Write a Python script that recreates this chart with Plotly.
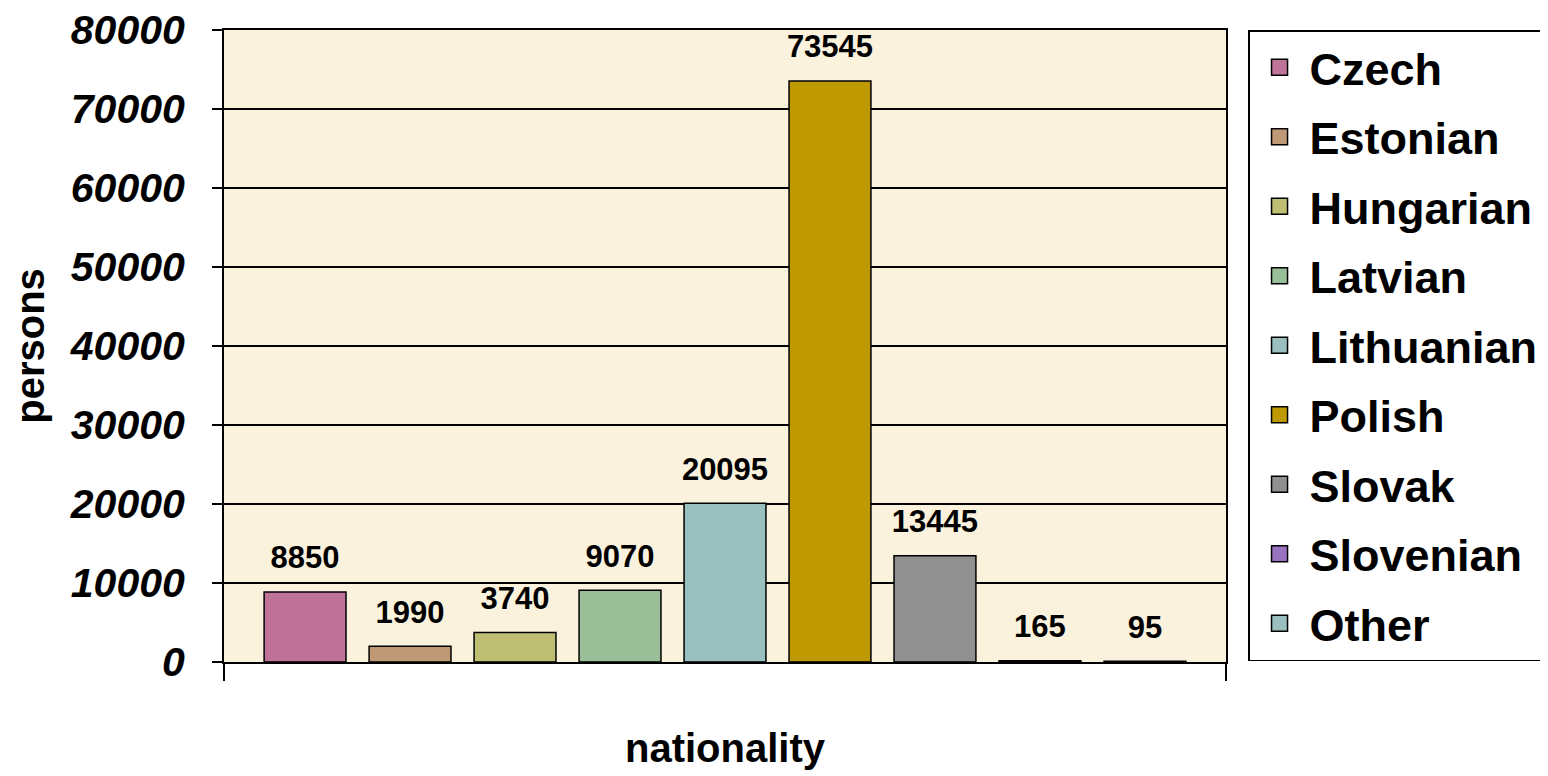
import plotly.graph_objects as go

nationalities = ["Czech", "Estonian", "Hungarian", "Latvian", "Lithuanian",
                 "Polish", "Slovak", "Slovenian", "Other"]
persons = [8850, 1990, 3740, 9070, 20095, 73545, 13445, 165, 95]
colors = ["#C07399", "#BF9975", "#BFBF73", "#99BF99", "#99BFBF",
          "#BF9900", "#909090", "#9973BF", "#99BFBF"]
y_ticks = [0, 10000, 20000, 30000, 40000, 50000, 60000, 70000, 80000]

FONT = "Liberation Sans, Arial, sans-serif"

fig = go.Figure()
for name, val, col in zip(nationalities, persons, colors):
    fig.add_trace(go.Bar(
        x=["nationality"], y=[val], name=name, showlegend=False,
        offsetgroup=name, alignmentgroup="a",
        marker=dict(color=col, line=dict(color="black", width=1.5)),
    ))
for name, val in zip(nationalities, persons):
    fig.add_trace(go.Scatter(
        x=["nationality"], y=[val], mode="markers+text", showlegend=False,
        offsetgroup=name, alignmentgroup="a", cliponaxis=False,
        marker=dict(size=24, opacity=0), text=[str(val)], textposition="top center",
        textfont=dict(family=FONT, size=31, color="black", weight="bold"),
        hoverinfo="skip",
    ))
for name, col in zip(nationalities, colors):
    fig.add_trace(go.Scatter(
        x=[None], y=[None], mode="markers", name=name, legendgroup=name,
        marker=dict(symbol="square", size=16, color=col,
                    line=dict(color="black", width=1.5)),
    ))

fig.update_layout(
    width=1548, height=776,
    margin=dict(l=216, r=330, t=22, b=122),
    paper_bgcolor="white", plot_bgcolor="#FBF2DD",
    barmode="group", bargap=0.057, bargroupgap=0.22,
    scattermode="group", scattergap=0.057,
    font=dict(family=FONT, color="black"),
    legend=dict(x=1.022, y=1.0, xanchor="left", yanchor="top",
                bgcolor="white", bordercolor="black", borderwidth=1.5,
                font=dict(family=FONT, size=45, color="black", weight="bold"),
                tracegroupgap=8, itemwidth=50, maxheight=740),
    xaxis=dict(showticklabels=False, showline=True, linecolor="black", linewidth=2,
               mirror=True, ticks="outside", ticklen=17, tickcolor="black",
               tickwidth=2, tickson="boundaries", showgrid=False, automargin=False,
               title=dict(text="nationality", standoff=71,
                          font=dict(family=FONT, size=40, weight="bold"))),
    yaxis=dict(range=[0, 80000], tickvals=y_ticks, tickformat="d", showgrid=True,
               gridcolor="black", gridwidth=1.5, showline=True, linecolor="black",
               linewidth=2, mirror=True, ticks="outside", ticklen=10,
               tickcolor="black", tickwidth=2, zeroline=False, automargin=False,
               ticklabelstandoff=19, ticklabeloverflow="allow",
               tickfont=dict(family=FONT, size=41, weight="bold", style="italic"),
               title=dict(text="persons", standoff=16,
                          font=dict(family=FONT, size=40, weight="bold"))),
)

fig.write_html("out.html")
